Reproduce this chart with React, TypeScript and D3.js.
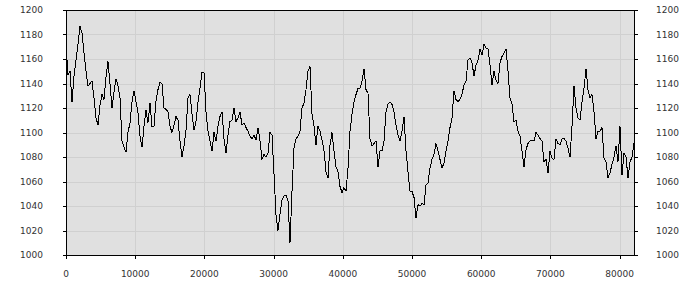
import React from "react";
import * as d3 from "d3";

// sample spacing along the x axis (data units)
const X_STEP = 289;

// series values, one per sample
const values: number[] = [
  1172, 1147, 1150, 1125, 1146, 1159, 1172, 1187, 1181, 1165,
  1150, 1138, 1140, 1142, 1128, 1112, 1106, 1122, 1131, 1127,
  1145, 1158, 1140, 1120, 1133, 1144, 1138, 1128, 1093, 1088,
  1084, 1100, 1108, 1125, 1134, 1125, 1116, 1097, 1088, 1105,
  1118, 1108, 1124, 1105, 1105, 1126, 1135, 1141, 1140, 1120,
  1119, 1117, 1105, 1100, 1106, 1113, 1110, 1093, 1080, 1089,
  1102, 1128, 1131, 1115, 1102, 1109, 1125, 1136, 1149, 1149,
  1117, 1101, 1093, 1085, 1100, 1093, 1105, 1113, 1117, 1095,
  1083, 1098, 1109, 1110, 1120, 1109, 1112, 1117, 1106, 1108,
  1104, 1101, 1097, 1095, 1098, 1094, 1104, 1093, 1078, 1082,
  1080, 1083, 1100, 1098, 1066, 1033, 1020, 1033, 1045, 1048,
  1049, 1044, 1010, 1052, 1087, 1095, 1097, 1101, 1120, 1124,
  1135, 1150, 1154, 1115, 1105, 1090, 1105, 1101, 1094, 1085,
  1068, 1063, 1090, 1100, 1085, 1072, 1068, 1056, 1051, 1055,
  1052, 1071, 1101, 1115, 1125, 1131, 1136, 1136, 1142, 1152,
  1135, 1132, 1095, 1089, 1091, 1093, 1072, 1085, 1085, 1093,
  1117, 1123, 1125, 1123, 1117, 1106, 1098, 1093, 1101, 1113,
  1085, 1068, 1052, 1052, 1047, 1030, 1041, 1040, 1042, 1041,
  1057, 1059, 1071, 1078, 1082, 1091, 1085, 1078, 1071, 1075,
  1085, 1093, 1104, 1112, 1134, 1127, 1125, 1127, 1131, 1139,
  1142, 1159, 1161, 1157, 1146, 1155, 1159, 1168, 1163, 1172,
  1169, 1168, 1155, 1139, 1150, 1143, 1140, 1157, 1162, 1165,
  1168, 1150, 1128, 1123, 1109, 1110, 1101, 1097, 1085, 1072,
  1086, 1091, 1093, 1094, 1093, 1100, 1098, 1095, 1093, 1076,
  1078, 1067, 1085, 1079, 1078, 1095, 1091, 1090, 1095, 1095,
  1093, 1087, 1080, 1105, 1138, 1120, 1112, 1110, 1125, 1136,
  1152, 1135, 1128, 1131, 1117, 1095, 1101, 1101, 1104, 1079,
  1076, 1063, 1067, 1074, 1080, 1089, 1076, 1105, 1065, 1083,
  1080, 1063, 1076, 1080, 1091,
];

const yTicks: number[] = [1000, 1020, 1040, 1060, 1080, 1100, 1120, 1140, 1160, 1180, 1200];
const xTicks: number[] = [0, 10000, 20000, 30000, 40000, 50000, 60000, 70000, 80000];

const W = 700;
const H = 300;
const L = 66;
const R = 634;
const T = 10;
const B = 255;

export default function App() {
  const data = values.map((v, i) => ({ x: i * X_STEP, y: v }));
  const x = d3.scaleLinear().domain([0, (values.length - 1) * X_STEP]).range([L, R]);
  const y = d3.scaleLinear().domain([1000, 1200]).range([B, T]);
  const line = d3
    .line<{ x: number; y: number }>()
    .x((d) => x(d.x))
    .y((d) => y(d.y));
  const font = "'DejaVu Sans', Verdana, sans-serif";
  return (
    <svg
      width={W}
      height={H}
      style={{ position: "absolute", left: 0, top: 0, display: "block" }}
    >
      <rect x={0} y={0} width={W} height={H} fill="#ffffff" />
      <rect x={L} y={T} width={R - L} height={B - T} fill="#e0e0e0" />
      {yTicks.map((t) => (
        <line
          key={"gy" + t}
          x1={L}
          x2={R}
          y1={Math.round(y(t)) + 0.5}
          y2={Math.round(y(t)) + 0.5}
          stroke="#d0d0d0"
        />
      ))}
      {xTicks.map((t) => (
        <line
          key={"gx" + t}
          x1={Math.round(x(t)) + 0.5}
          x2={Math.round(x(t)) + 0.5}
          y1={T}
          y2={B}
          stroke="#d0d0d0"
        />
      ))}
      <path
        d={line(data) || ""}
        fill="none"
        stroke="#000"
        strokeWidth={1}
        shapeRendering="crispEdges"
      />
      <rect
        x={L + 0.5}
        y={T + 0.5}
        width={R - L}
        height={B - T}
        fill="none"
        stroke="#000"
        strokeWidth={1}
      />
      {yTicks.map((t) => (
        <g key={"ty" + t}>
          <line x1={L - 3} x2={L} y1={Math.round(y(t)) + 0.5} y2={Math.round(y(t)) + 0.5} stroke="#000" />
          <line x1={R} x2={R + 4} y1={Math.round(y(t)) + 0.5} y2={Math.round(y(t)) + 0.5} stroke="#000" />
          <text
            x={43}
            y={y(t)}
            dy="0.35em"
            textAnchor="end"
            fontFamily={font}
            fontSize={9}
            fill="#333"
          >
            {t}
          </text>
          <text
            x={656}
            y={y(t)}
            dy="0.35em"
            textAnchor="start"
            fontFamily={font}
            fontSize={9}
            fill="#333"
          >
            {t}
          </text>
        </g>
      ))}
      {xTicks.map((t) => (
        <g key={"tx" + t}>
          <line x1={Math.round(x(t)) + 0.5} x2={Math.round(x(t)) + 0.5} y1={B} y2={B + 4} stroke="#000" />
          <text
            x={x(t)}
            y={277}
            textAnchor="middle"
            fontFamily={font}
            fontSize={9}
            fill="#333"
          >
            {t}
          </text>
        </g>
      ))}
    </svg>
  );
}
